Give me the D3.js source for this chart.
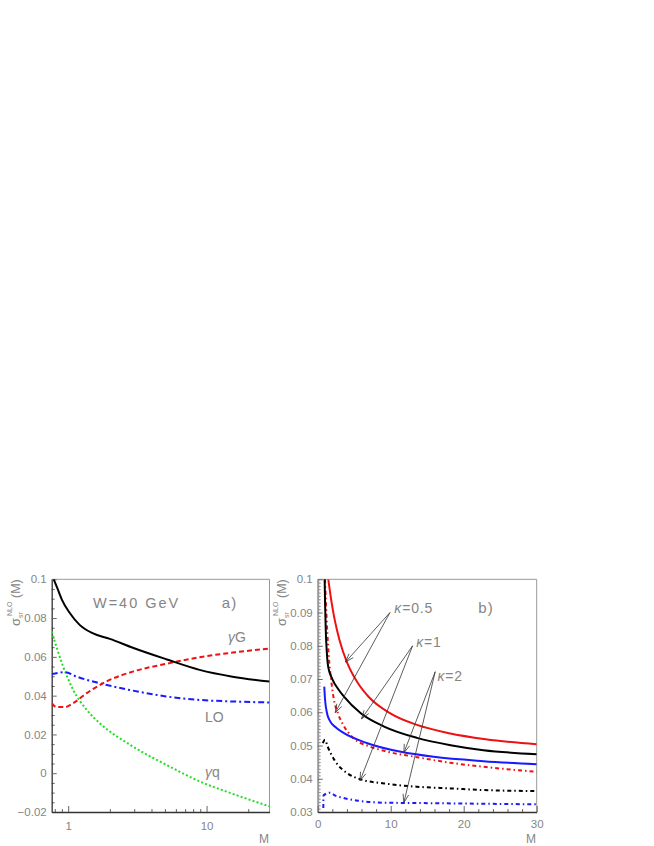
<!DOCTYPE html>
<html>
<head>
<meta charset="utf-8">
<script src="https://cdn.jsdelivr.net/npm/d3@7"></script>
<style>
  body { margin: 0; background: #fff; }
  text { font-family: "Liberation Sans", Arial, sans-serif; }
</style>
</head>
<body>
<svg id="chart" width="654" height="846"></svg>
<script>
// ---- panel a) : sigma vs M (log), W = 40 GeV ----
const totalA = [[0.785, 0.1], [0.85, 0.094], [0.9, 0.0895], [1.03, 0.0825], [1.21, 0.0765], [1.5, 0.0722], [2.0, 0.0693],
  [2.93, 0.0647], [5.1, 0.0588], [8.9, 0.0533], [15.4, 0.0498], [28.5, 0.0473]];
const gammaG = [[0.76, 0.0361], [0.825, 0.0341], [0.947, 0.0341], [1.086, 0.0361], [1.36, 0.0413], [1.89, 0.0473],
  [2.93, 0.0524], [5.1, 0.0564], [8.9, 0.0598], [15.4, 0.0622], [28.5, 0.0643]];
const loA = [[0.76, 0.0511], [0.947, 0.0521], [1.15, 0.0498], [1.69, 0.0464], [2.93, 0.0426], [5.1, 0.0396],
  [8.9, 0.0378], [15.4, 0.037], [28.5, 0.0365]];
const gammaQ = [[0.76, 0.073], [0.92, 0.055], [1.086, 0.043], [1.36, 0.0327], [1.69, 0.0258], [2.93, 0.0138],
  [5.1, 0.0044], [8.9, -0.0042], [15.4, -0.0106], [28.5, -0.0171]];

const xTicksA = [1, 10];
const xMinorA = [0.8, 0.9, 2, 3, 4, 5, 6, 7, 8, 9, 20];
const yTicksA = [-0.02, 0, 0.02, 0.04, 0.06, 0.08, 0.1];
const yLabelsA = ["\u22120.02", "0", "0.02", "0.04", "0.06", "0.08", "0.1"];

// ---- panel b) : sigma vs M (linear), kappa = 0.5, 1, 2 ----
const k05Solid = [[1.45, 0.1], [1.8, 0.0945], [2.2, 0.0893], [2.6, 0.0851], [3.0, 0.0816], [4.0, 0.0751],
  [5.5, 0.0688], [7.0, 0.0646], [10, 0.0596], [13.6, 0.0562], [18, 0.0537], [23, 0.0519], [30, 0.0504]];
const k1Solid = [[0.95, 0.1], [1.02, 0.092], [1.1, 0.085], [1.25, 0.078], [1.45, 0.0735], [2.0, 0.07],
  [2.8, 0.067], [3.6, 0.0647], [5.9, 0.0597], [9.1, 0.0557], [13.6, 0.0523], [18.2, 0.0501], [22.7, 0.0486], [30, 0.0474]];
const k2Solid = [[0.9, 0.0677], [1.0, 0.064], [1.3, 0.0595], [1.6, 0.0577], [2.5, 0.0554], [3.6, 0.0537],
  [6.8, 0.0507], [11.4, 0.0481], [15.9, 0.0466], [22.7, 0.0453], [30, 0.0444]];
const k05Dash = [[1.0, 0.1], [1.23, 0.0878], [1.6, 0.0747], [1.9, 0.0687], [2.15, 0.0647], [2.8, 0.0595],
  [3.5, 0.0562], [4.9, 0.0522], [7.0, 0.0498], [9.1, 0.0484], [13.6, 0.0465], [18.2, 0.0448], [22.7, 0.0436], [30, 0.0421]];
const k1Dash = [[0.7, 0.0507], [1.0, 0.0517], [1.36, 0.0497], [2.3, 0.0456], [4.1, 0.0416], [5.9, 0.0398],
  [9.1, 0.0386], [13.6, 0.0376], [18.2, 0.0371], [22.7, 0.0366], [30, 0.0363]];
const k2Dash = [[0.77, 0.0312], [0.8, 0.035], [1.7, 0.0358], [2.4, 0.0349], [3.2, 0.0344], [5.5, 0.0334],
  [9.1, 0.0328], [13.6, 0.0327], [30, 0.0323]];

const xTicksB = [0, 10, 20, 30];
const yTicksB = [0.03, 0.04, 0.05, 0.06, 0.07, 0.08, 0.09, 0.1];
const yLabelsB = ["0.03", "0.04", "0.05", "0.06", "0.07", "0.08", "0.09", "0.1"];

// arrows: label point -> curve point (data coords of panel b)
const arrowsB = [
  { from: [9.9, 0.090], to: [3.8, 0.0751] },
  { from: [9.9, 0.090], to: [2.4, 0.0599] },
  { from: [13.0, 0.080], to: [6.0, 0.058] },
  { from: [13.0, 0.080], to: [5.8, 0.0394] },
  { from: [16.1, 0.0722], to: [11.8, 0.0478] },
  { from: [16.1, 0.0722], to: [11.8, 0.0328] }
];

const svg = d3.select("#chart");
const plotTop = 579.3, plotBottom = 812;
const gray = "#858585";

function frame(g, x0, x1) {
    // grey top and right border
    g.append("path")
        .attr("d", `M${x0},${plotTop}H${x1}V${plotBottom}`)
        .attr("fill", "none").attr("stroke", "#999").attr("stroke-width", 1);
}

function styleAxis(g, color) {
    g.select(".domain").attr("stroke", color).attr("stroke-width", 1.3);
    g.selectAll(".tick line").attr("stroke", "#666");
    g.selectAll(".tick text").attr("fill", gray).style("font-size", "11.5px")
        .style("font-family", "'Liberation Sans', Arial, sans-serif");
}

function yTitle(px) {
    // sigma^NLO_sr(M), rotated
    const t = svg.append("g").attr("transform", `translate(${px},626) rotate(-90)`).attr("fill", gray);
    t.append("text").attr("x", 0).attr("y", 0).style("font-size", "13px").text("\u03c3");
    t.append("text").attr("x", 8).attr("y", 3).style("font-size", "7px").text("sr");
    t.append("text").attr("x", 10).attr("y", -8).style("font-size", "7px").text("NLO");
    t.append("text").attr("x", 28).attr("y", 0).style("font-size", "12.5px").text("(M)");
}

function drawLine(g, x, y, data, color, dash, width) {
    const line = d3.line().x(d => x(d[0])).y(d => y(d[1])).curve(d3.curveMonotoneX);
    g.append("path")
        .attr("d", line(data))
        .attr("fill", "none")
        .attr("stroke", color)
        .attr("stroke-width", width || 2)
        .attr("stroke-dasharray", dash || null);
}

// ================= panel a =================
const xa = d3.scaleLog().domain([0.76, 28.5]).range([51.7, 269.5]);
const ya = d3.scaleLinear().domain([-0.02, 0.1]).range([plotBottom, plotTop]);

frame(svg, 51.7, 269.5);

const defs = svg.append("defs");
defs.append("clipPath").attr("id", "clipA")
    .append("rect").attr("x", 51.7).attr("y", plotTop).attr("width", 269.5 - 51.7).attr("height", plotBottom - plotTop);
defs.append("clipPath").attr("id", "clipB")
    .append("rect").attr("x", 317.7).attr("y", plotTop).attr("width", 536.7 - 317.7).attr("height", plotBottom - plotTop);

const minorYA = d3.range(-0.02, 0.1001, 0.005).filter(v => Math.abs(Math.round(v / 0.02) * 0.02 - v) > 1e-6);
svg.append("g").attr("transform", "translate(51.7,0)")
    .call(d3.axisLeft(ya).tickValues(minorYA).tickSize(-3).tickFormat(""))
    .call(g => { g.select(".domain").remove(); g.selectAll("line").attr("stroke", "#666"); });
const axYA = svg.append("g").attr("transform", "translate(51.7,0)")
    .call(d3.axisLeft(ya).tickValues(yTicksA).tickSizeInner(-5).tickSizeOuter(0).tickPadding(5)
        .tickFormat((d, i) => yLabelsA[i]));
styleAxis(axYA, "#333");

svg.append("g").attr("transform", `translate(0,${plotBottom})`)
    .call(d3.axisBottom(xa).tickValues(xMinorA).tickSize(-3).tickFormat(""))
    .call(g => { g.select(".domain").remove(); g.selectAll("line").attr("stroke", "#666"); });
const axXA = svg.append("g").attr("transform", `translate(0,${plotBottom})`)
    .call(d3.axisBottom(xa).tickValues(xTicksA).tickSizeInner(-6).tickSizeOuter(0).tickPadding(10)
        .tickFormat(d3.format("d")));
styleAxis(axXA, "#333");

const plotA = svg.append("g").attr("clip-path", "url(#clipA)");
drawLine(plotA, xa, ya, gammaQ, "#22dd22", "2,2.2", 2);
drawLine(plotA, xa, ya, loA, "#1a1aff", "6,3,2,3", 2);
drawLine(plotA, xa, ya, gammaG, "#ee1111", "5,3", 2);
drawLine(plotA, xa, ya, totalA, "#000", null, 2);

svg.append("text").attr("x", xa(1.51)).attr("y", ya(0.0852)).attr("fill", gray)
    .style("font-size", "14.5px").style("letter-spacing", "2px").html("W=40&#160;GeV");
svg.append("text").attr("x", xa(12.9)).attr("y", ya(0.0852)).attr("fill", gray)
    .style("font-size", "15px").style("letter-spacing", "1px").text("a)");
svg.append("text").attr("x", xa(14.3)).attr("y", ya(0.0677)).attr("fill", gray)
    .style("font-size", "14px").html("<tspan font-style='italic'>\u03b3</tspan>G");
svg.append("text").attr("x", xa(9.75)).attr("y", ya(0.0265)).attr("fill", gray)
    .style("font-size", "14px").text("LO");
svg.append("text").attr("x", xa(9.75)).attr("y", ya(-0.0017)).attr("fill", gray)
    .style("font-size", "14px").html("<tspan font-style='italic'>\u03b3</tspan>q");
svg.append("text").attr("x", 264).attr("y", 843).attr("text-anchor", "middle").attr("fill", gray)
    .style("font-size", "12px").text("M");
yTitle(19.5);

// ================= panel b =================
const xb = d3.scaleLinear().domain([0, 30]).range([317.7, 536.7]);
const yb = d3.scaleLinear().domain([0.03, 0.1]).range([plotBottom, plotTop]);

frame(svg, 317.7, 536.7);

const minorYB = d3.range(0.03, 0.1001, 0.001).filter(v => Math.abs(Math.round(v / 0.01) * 0.01 - v) > 1e-6);
svg.append("g").attr("transform", "translate(317.7,0)")
    .call(d3.axisLeft(yb).tickValues(minorYB).tickSize(-3).tickFormat(""))
    .call(g => { g.select(".domain").remove(); g.selectAll("line").attr("stroke", "#888"); });
const axYB = svg.append("g").attr("transform", "translate(317.7,0)")
    .call(d3.axisLeft(yb).tickValues(yTicksB).tickSizeInner(-5).tickSizeOuter(0).tickPadding(5)
        .tickFormat((d, i) => yLabelsB[i]));
styleAxis(axYB, "#999");
axYB.select(".domain").attr("stroke-width", 2);

const minorXB = d3.range(2, 30, 2).filter(v => v % 10 !== 0);
svg.append("g").attr("transform", `translate(0,${plotBottom})`)
    .call(d3.axisBottom(xb).tickValues(minorXB).tickSize(-3).tickFormat(""))
    .call(g => { g.select(".domain").remove(); g.selectAll("line").attr("stroke", "#666"); });
const axXB = svg.append("g").attr("transform", `translate(0,${plotBottom})`)
    .call(d3.axisBottom(xb).tickValues(xTicksB).tickSizeInner(-6).tickSizeOuter(0).tickPadding(8)
        .tickFormat(d3.format("d")));
styleAxis(axXB, "#333");

const plotB = svg.append("g").attr("clip-path", "url(#clipB)");
drawLine(plotB, xb, yb, k2Dash, "#1a1aff", "4,3,1.5,3", 2);
drawLine(plotB, xb, yb, k1Dash, "#000", "4,3,1.5,3", 2);
drawLine(plotB, xb, yb, k05Dash, "#ee1111", "4,3,1.5,3", 2);
drawLine(plotB, xb, yb, k2Solid, "#1a1aff", null, 2);
drawLine(plotB, xb, yb, k1Solid, "#000", null, 2);
drawLine(plotB, xb, yb, k05Solid, "#ee1111", null, 2);

// arrows with open heads
arrowsB.forEach(a => {
    const x1 = xb(a.from[0]), y1 = yb(a.from[1]);
    const x2 = xb(a.to[0]), y2 = yb(a.to[1]);
    const ang = Math.atan2(y1 - y2, x1 - x2);
    const h = 9, s = 0.32;
    const p1 = [x2 + h * Math.cos(ang + s), y2 + h * Math.sin(ang + s)];
    const p2 = [x2 + h * Math.cos(ang - s), y2 + h * Math.sin(ang - s)];
    svg.append("path")
        .attr("d", `M${x1},${y1}L${x2},${y2}M${p1[0]},${p1[1]}L${x2},${y2}L${p2[0]},${p2[1]}`)
        .attr("fill", "none").attr("stroke", "#333").attr("stroke-width", 0.8);
});

function kappaLabel(mx, my, val) {
    svg.append("text").attr("x", xb(mx)).attr("y", yb(my)).attr("fill", gray)
        .style("font-size", "14px").style("letter-spacing", "0.8px")
        .html(`<tspan font-style="italic">\u03ba</tspan>=${val}`);
}
kappaLabel(10.5, 0.0899, "0.5");
kappaLabel(13.5, 0.0796, "1");
kappaLabel(16.4, 0.0694, "2");
svg.append("text").attr("x", xb(22)).attr("y", yb(0.0899)).attr("fill", gray)
    .style("font-size", "15px").style("letter-spacing", "1px").text("b)");
svg.append("text").attr("x", 531).attr("y", 843).attr("text-anchor", "middle").attr("fill", gray)
    .style("font-size", "12px").text("M");
yTitle(285.5);
</script>
</body>
</html>
